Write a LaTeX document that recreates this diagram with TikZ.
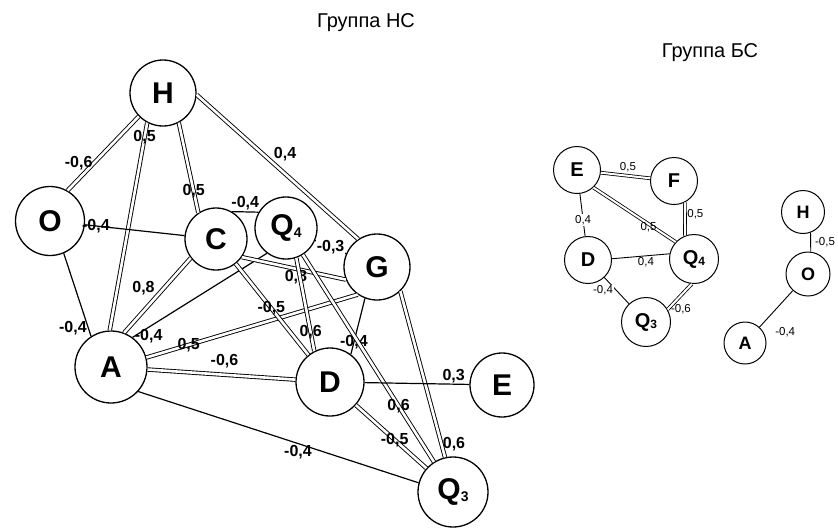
\documentclass[tikz,border=0pt]{standalone}
\usepackage{fontspec}
\setmainfont{Liberation Sans}

\newcommand{\lowidx}[2]{\raisebox{-1.5pt}{\fontsize{#1}{#1}\selectfont #2}}

\begin{document}
\begin{tikzpicture}[x=1pt, y=-1pt, line width=1.2pt,
    vbig/.style={circle, draw, line width=1.3pt, inner sep=0pt, font=\fontsize{30}{30}\selectfont\bfseries},
    vsmall/.style={circle, draw, line width=1pt, inner sep=0pt, minimum size=47pt, font=\fontsize{20}{20}\selectfont\bfseries},
    wbig/.style={inner sep=1pt, font=\fontsize{16}{16}\selectfont\bfseries},
    wsmall/.style={inner sep=1pt, font=\fontsize{11.5}{11.5}\selectfont},
    wire/.style={line width=1.2pt},
    dwire/.style={double, line width=.9pt, double distance=2.6pt},
    swire/.style={line width=.9pt},
    sdwire/.style={double, line width=.8pt, double distance=2pt}]
    \useasboundingbox (0,0) rectangle (838,528);

    % draw titles
    \node[font=\fontsize{20}{20}\selectfont, anchor=base] (tNS) at (366,27) {Группа НС};
    \node[font=\fontsize{20}{20}\selectfont, anchor=base] (tBS) at (710,57) {Группа БС};

    % draw nodes of group NS
    \node[vbig, minimum size=66pt] (nH)  at (163,93)  {H};
    \node[vbig, minimum size=69pt] (nO)  at (50,221)  {O};
    \node[vbig, minimum size=62pt] (nC)  at (216,239) {C};
    \node[vbig, minimum size=62pt] (nQ4) at (286,228) {Q\lowidx{14}{4}};
    \node[vbig, minimum size=66pt] (nG)  at (377,267) {G};
    \node[vbig, minimum size=72pt] (nA)  at (111,367) {A};
    \node[vbig, minimum size=68pt] (nD)  at (330,382) {D};
    \node[vbig, minimum size=64pt] (nE)  at (502,385) {E};
    \node[vbig, minimum size=70pt] (nQ3) at (453,492) {Q\lowidx{14}{3}};

    % draw links of group NS
    \draw[dwire] (nH.224) -- (nO.60)   node[wbig, pos=.63, left] {-0,6};
    \draw[dwire] (nH.242) -- (nA.92)   node[wbig, pos=.07] {0,5};
    \draw[dwire] (nH.298) -- (nC.124)  node[wbig, pos=.76] {0,5};
    \draw[dwire] (nH.357) -- (nG.124)  node[wbig, pos=.47, above right] {0,4};
    \draw[wire]  (nO) -- (nC)          node[wbig, pos=.11] {-0,4};
    \draw[wire]  (nO.293) -- (nA.123)  node[wbig, pos=.9, left] {-0,4};
    \draw[wire]  (nC.60) -- (nQ4.150)  node[wbig, midway, above] {-0,4};
    \draw[wire]  (nQ4) -- (nG)         node[wbig, midway, fill=white] {-0,3};
    \draw[dwire] (nA.69) -- (nC.217)   node[wbig, pos=.48, above left] {0,8};
    \draw[wire]  (nA.54) -- (nQ4.233)  node[wbig, pos=.12, below] {-0,4};
    \draw[dwire] (nA.15) -- (nG.235)   node[wbig, pos=.2] {0,5};
    \draw[dwire] (nA) -- (nD)          node[wbig, pos=.52, above=5pt] {-0,6};
    \draw[wire]  (nA.318) -- (nQ3.165) node[wbig, pos=.57, below] {-0,4};
    \draw[dwire] (nC.325) -- (nG.202)  node[wbig, pos=.52, below] {0,8};
    \draw[dwire] (nC) -- (nD)          node[wbig, pos=.49] {-0,5};
    \draw[dwire] (nQ4.289) -- (nD.117) node[wbig, pos=.8] {0,6};
    \draw[wire]  (nG.249) -- (nD.53)   node[wbig, pos=.78] {-0,4};
    \draw[dwire] (nQ4) -- (nQ3)        node[wbig, pos=.73] {0,6};
    \draw[dwire] (nG.314) -- (nQ3.103) node[wbig, pos=.92, right] {0,6};
    \draw[dwire] (nD) -- (nQ3)         node[wbig, pos=.55] {-0,5};
    \draw[wire]  (nD) -- (nE)          node[wbig, pos=.85, above] {0,3};

    % draw nodes of group BS
    \node[vsmall] (bE) at (577,170) {E};
    \node[vsmall] (bF) at (674,181) {F};
    \node[vsmall] (bD) at (588,260) {D};
    \node[vsmall, minimum size=49pt] (bQ4) at (694,259) {Q\lowidx{12}{4}};
    \node[vsmall, minimum size=49pt] (bQ3) at (646,322) {Q\lowidx{12}{3}};
    \node[vsmall, minimum size=43pt, font=\fontsize{18}{18}\selectfont\bfseries] (bH) at (803,212) {H};
    \node[vsmall, minimum size=44pt, font=\fontsize{18}{18}\selectfont\bfseries] (bO) at (808,274) {O};
    \node[vsmall, minimum size=42pt, font=\fontsize{18}{18}\selectfont\bfseries] (bA) at (745,343) {A};

    % draw links of group BS
    \draw[sdwire] (bE) -- (bF)          node[wsmall, pos=.55, above=2pt] {0,5};
    \draw[sdwire] (bE.313) -- (bQ4.137) node[wsmall, pos=.67, below=-3pt] {0,5};
    \draw[sdwire] (bF.297) -- (bQ4.111) node[wsmall, pos=.37, right=1pt] {0,5};
    \draw[swire]  (bE) -- (bD)          node[wsmall, pos=.62, fill=white] {0,4};
    \draw[swire]  (bD.3) -- (bQ4.168)   node[wsmall, pos=.59, below] {0,4};
    \draw[swire]  (bD) -- (bQ3)         node[wsmall, pos=.49, left=2pt, fill=white] {-0,4};
    \draw[sdwire] (bQ4.265) -- (bQ3.30) node[wsmall, pos=1, right=2pt] {-0,6};
    \draw[swire]  (bH.290) -- (bO.83)   node[wsmall, midway, right=3pt] {-0,5};
    \draw[swire]  (bO) -- (bA)          node[wsmall, pos=.78, below right=7pt] {-0,4};

\end{tikzpicture}
\end{document}
